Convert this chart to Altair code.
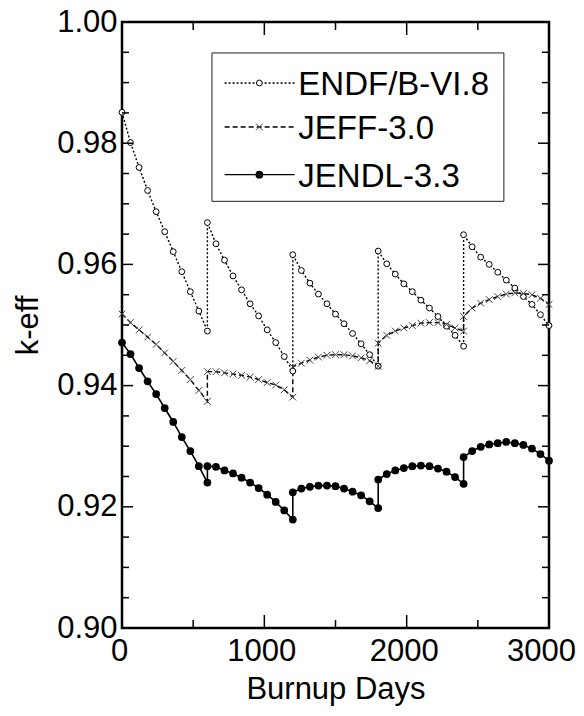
import altair as alt
import pandas as pd

# ---------------- data ----------------
DAYS = [0, 60, 120, 180, 240, 300, 360, 420, 480, 540, 600,
        600, 660, 720, 780, 840, 900, 960, 1020, 1080, 1140, 1200,
        1200, 1260, 1320, 1380, 1440, 1500, 1560, 1620, 1680, 1740, 1800,
        1800, 1860, 1920, 1980, 2040, 2100, 2160, 2220, 2280, 2340, 2400,
        2400, 2460, 2520, 2580, 2640, 2700, 2760, 2820, 2880, 2940, 3000]

ENDF = [0.9851, 0.9801, 0.9760, 0.9722, 0.9687, 0.9654, 0.9621, 0.9588, 0.9555, 0.9523, 0.9490,
        0.9669, 0.9634, 0.9607, 0.9581, 0.9558, 0.9535, 0.9515, 0.9492, 0.9471, 0.9448, 0.9424,
        0.9616, 0.9590, 0.9569, 0.9551, 0.9535, 0.9518, 0.9502, 0.9486, 0.9469, 0.9451, 0.9432,
        0.9622, 0.9601, 0.9584, 0.9568, 0.9555, 0.9541, 0.9528, 0.9514, 0.9498, 0.9483, 0.9465,
        0.9649, 0.9629, 0.9612, 0.9600, 0.9587, 0.9574, 0.9561, 0.9547, 0.9534, 0.9517, 0.9499]

JEFF = [0.9518, 0.9504, 0.9492, 0.9480, 0.9468, 0.9454, 0.9440, 0.9425, 0.9410, 0.9392, 0.9374,
        0.9423, 0.9423, 0.9421, 0.9419, 0.9417, 0.9414, 0.9410, 0.9405, 0.9401, 0.9393, 0.9381,
        0.9431, 0.9437, 0.9442, 0.9447, 0.9450, 0.9451, 0.9451, 0.9449, 0.9446, 0.9441, 0.9432,
        0.9470, 0.9483, 0.9490, 0.9495, 0.9499, 0.9503, 0.9504, 0.9504, 0.9501, 0.9495, 0.9490,
        0.9514, 0.9528, 0.9536, 0.9542, 0.9547, 0.9551, 0.9553, 0.9552, 0.9550, 0.9544, 0.9534]

JENDL = [0.9471, 0.9452, 0.9429, 0.9407, 0.9386, 0.9363, 0.9340, 0.9315, 0.9292, 0.9267, 0.9240,
         0.9267, 0.9266, 0.9260, 0.9255, 0.9248, 0.9240, 0.9231, 0.9220, 0.9208, 0.9194, 0.9179,
         0.9224, 0.9230, 0.9233, 0.9235, 0.9235, 0.9234, 0.9230, 0.9225, 0.9219, 0.9209, 0.9198,
         0.9245, 0.9254, 0.9260, 0.9264, 0.9267, 0.9268, 0.9267, 0.9263, 0.9258, 0.9249, 0.9238,
         0.9282, 0.9292, 0.9299, 0.9303, 0.9305, 0.9307, 0.9305, 0.9302, 0.9296, 0.9287, 0.9276]

SERIES = ["ENDF/B-VI.8", "JEFF-3.0", "JENDL-3.3"]

Y_TICKS = [0.90, 0.92, 0.94, 0.96, 0.98, 1.00]
Y_MINOR = [0.905, 0.91, 0.915, 0.925, 0.93, 0.935, 0.945, 0.95, 0.955,
           0.965, 0.97, 0.975, 0.985, 0.99, 0.995]
X_TICKS = [0, 1000, 2000, 3000]
X_MINOR = [500, 1500, 2500]

# ---------------- layout / style ----------------
W, H = 427, 606
FONT = "Liberation Sans"
XS = alt.Scale(domain=[0, 3000], nice=False, zero=False)
YS = alt.Scale(domain=[0.90, 1.00], nice=False, zero=False)

# legend placement (in data units, so it goes through the scales)
LEG_BOX = dict(x1=632, x2=2683, y1=0.99489, y2=0.97041)
LEG_ROWS = [0.98994, 0.98268, 0.97481]
LEG_LINE = (721, 1213)
LEG_MARK = 965
LEG_TEXT = 1239

X_AXIS = alt.Axis(values=X_TICKS, format="d", title="Burnup Days", ticks=False,
                  domain=False, grid=False, labelPadding=8,
                  labelOffset={"condition": {"test": "datum.value >= 3000",
                                             "value": -8},
                               "value": -3},
                  labelFlush=False, labelOverlap=False, titlePadding=8)
Y_AXIS = alt.Axis(values=Y_TICKS, format=".2f", title="k-eff",
                  ticks=False, domain=False, grid=False,
                  labelPadding=5, labelFlush=False,
                  labelOverlap=False, titlePadding=12)


def X(field):
    return alt.X(field, type="quantitative", scale=XS, axis=X_AXIS)


def Y(field):
    return alt.Y(field, type="quantitative", scale=YS, axis=Y_AXIS)


def series_df(vals):
    return pd.DataFrame({"day": DAYS, "k": vals, "i": list(range(len(DAYS)))})


d_endf = series_df(ENDF)
d_jeff = series_df(JEFF)
d_jendl = series_df(JENDL)

endf_line = alt.Chart(d_endf).mark_line(color="black", strokeWidth=1.4,
                                        strokeDash=[2, 2]).encode(
    x=X("day"), y=Y("k"), order="i:Q")
endf_pts = alt.Chart(d_endf).mark_circle(size=34, fill="white", stroke="black",
                                         strokeWidth=1, opacity=1).encode(
    x=X("day"), y=Y("k"))

jeff_line = alt.Chart(d_jeff).mark_line(color="black", strokeWidth=1.4,
                                        strokeDash=[5, 3]).encode(
    x=X("day"), y=Y("k"), order="i:Q")
jeff_pts = alt.Chart(d_jeff).mark_point(shape="M-1,-1L1,1M-1,1L1,-1", size=46,
                                        stroke="#444444", strokeWidth=1,
                                        filled=False, opacity=1).encode(
    x=X("day"), y=Y("k"))

jendl_line = alt.Chart(d_jendl).mark_line(color="black", strokeWidth=1.6).encode(
    x=X("day"), y=Y("k"), order="i:Q")
jendl_pts = alt.Chart(d_jendl).mark_circle(size=60, color="black",
                                           opacity=1).encode(
    x=X("day"), y=Y("k"))

# inward ticks
ymaj = pd.DataFrame({"k": Y_TICKS})
ymin = pd.DataFrame({"k": Y_MINOR})
xmaj = pd.DataFrame({"day": X_TICKS})
xmin = pd.DataFrame({"day": X_MINOR})


def yt(df, x0, x1):
    return alt.Chart(df).mark_rule(color="black", strokeWidth=1.5).encode(
        y=Y("k"), x=alt.value(x0), x2=alt.value(x1))


def xt(df, y0, y1):
    return alt.Chart(df).mark_rule(color="black", strokeWidth=1.5).encode(
        x=X("day"), y=alt.value(y0), y2=alt.value(y1))


ticks = [
    yt(ymaj, 0, 11), yt(ymaj, W, W - 11), yt(ymin, 0, 7), yt(ymin, W, W - 7),
    xt(xmaj, 0, 13), xt(xmaj, H, H - 13), xt(xmin, 0, 8), xt(xmin, H, H - 8),
]

# legend
box_df = pd.DataFrame({"day": [LEG_BOX["x1"]], "day2": [LEG_BOX["x2"]],
                       "k": [LEG_BOX["y1"]], "k2": [LEG_BOX["y2"]]})
leg_box = alt.Chart(box_df).mark_rect(fill="white", stroke="#222222",
                                      strokeWidth=1).encode(
    x=X("day"), x2="day2:Q", y=Y("k"), y2="k2:Q")

leg_df = pd.DataFrame({"name": SERIES, "k": LEG_ROWS,
                       "day": [LEG_LINE[0]] * 3, "day2": [LEG_LINE[1]] * 3})
mark_df = pd.DataFrame({"name": SERIES, "k": LEG_ROWS, "day": [LEG_MARK] * 3})
text_df = pd.DataFrame({"name": SERIES, "k": LEG_ROWS, "day": [LEG_TEXT] * 3})

leg_lines = alt.Chart(leg_df).mark_rule(color="black", strokeWidth=1.4).encode(
    x=X("day"), x2="day2:Q", y=Y("k"),
    strokeDash=alt.StrokeDash("name:N",
                              scale=alt.Scale(domain=SERIES,
                                              range=[[2, 2], [5, 3], [1, 0]]),
                              legend=None))
leg_m1 = alt.Chart(mark_df.iloc[[0]]).mark_circle(
    size=34, fill="white", stroke="black", strokeWidth=1, opacity=1).encode(
    x=X("day"), y=Y("k"))
leg_m2 = alt.Chart(mark_df.iloc[[1]]).mark_point(
    shape="M-1,-1L1,1M-1,1L1,-1", size=46, stroke="#444444", strokeWidth=1,
    filled=False, opacity=1).encode(
    x=X("day"), y=Y("k"))
leg_m3 = alt.Chart(mark_df.iloc[[2]]).mark_circle(
    size=60, color="black", opacity=1).encode(
    x=X("day"), y=Y("k"))
leg_text = alt.Chart(text_df).mark_text(
    align="left", baseline="middle", fontSize=33, font=FONT, dy=2,
    color="black").encode(
    x=X("day"), y=Y("k"), text="name:N")

chart = alt.layer(
    endf_line, jeff_line, jendl_line, endf_pts, jeff_pts, jendl_pts,
    *ticks, leg_box, leg_lines, leg_m1, leg_m2, leg_m3, leg_text
).properties(
    width=W, height=H,
    autosize=alt.AutoSizeParams(type="none"),
    padding={"left": 114, "top": 14, "right": 27, "bottom": 80},
).configure_view(
    stroke="black", strokeWidth=2.5
).configure_axis(
    labelFont=FONT, titleFont=FONT, labelFontSize=31, titleFontSize=31,
    titleFontWeight="normal", labelColor="black", titleColor="black"
)

chart.save("out.html", embed_options={"renderer": "svg", "actions": False})
